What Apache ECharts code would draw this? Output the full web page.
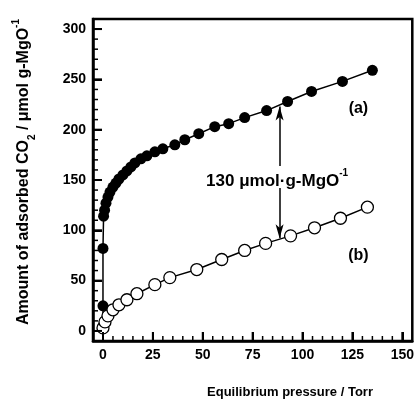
<!DOCTYPE html>
<html>
<head>
<meta charset="utf-8">
<script src="https://cdn.jsdelivr.net/npm/echarts@6/dist/echarts.min.js"></script>
<style>
html, body { margin: 0; padding: 0; background: #fff; }
#e_chart_1 { width: 417px; height: 402px; }
</style>
</head>
<body>
<div id="e_chart_1"></div>
<script>
// (a) filled circles, (b) open circles
var pressureA = [0, 0, 0, 0.3, 0.8, 1.5, 2.5, 3.5, 5, 6.5, 8, 10, 12, 14, 16, 19, 22, 26, 30, 36, 41, 48, 56, 63, 71, 82, 92.5, 104.5, 120, 135];
var amountA = [0, 25, 82, 114, 120, 127, 133, 138, 143, 147, 151, 155, 159, 163, 167, 171, 174, 178, 181, 185, 190, 196, 203, 206, 212, 219, 228, 238, 248, 259];
var pressureB = [0, 1, 2.5, 5, 8, 12, 17, 26, 33.5, 47, 59.5, 71, 81.5, 94, 106, 119, 132.5];
var amountB = [3, 9, 15, 21, 26, 31, 37, 46, 53, 61, 71, 80, 87, 94.5, 102.5, 112, 123];

var xTicks = [0, 25, 50, 75, 100, 125, 150];
var xMinorTicks = [5, 10, 15, 20, 30, 35, 40, 45, 55, 60, 65, 70, 80, 85, 90, 95, 105, 110, 115, 120, 130, 135, 140, 145];
var yTicks = [0, 50, 100, 150, 200, 250, 300];
var yMinorTicks = [10, 20, 30, 40, 60, 70, 80, 90, 110, 120, 130, 140, 160, 170, 180, 190, 210, 220, 230, 240, 260, 270, 280, 290];

var xMin = -5, xMax = 155, yMin = -10, yMax = 310;

// annotation (data coords)
var gapX = 88.5;
var gapTop = [223, 164];
var gapBottom = [142, 92];
var gapText = [87.25, 149];
var labelA = [128, 221];
var labelB = [128, 75];

var font = "'Liberation Sans', Arial, sans-serif";

function pairs(xs, ys) {
	var out = [];
	for (var i = 0; i < xs.length; i++) {
		if (xs[i] === 0 && ys[i] === 0) {
			out.push({ value: [0, 0], symbolSize: 0 });
		} else {
			out.push([xs[i], ys[i]]);
		}
	}
	return out;
}

var dom = document.getElementById("e_chart_1");
var myChart = echarts.init(dom);

var tickLabel = {
	color: '#000',
	fontFamily: font,
	fontWeight: 'bold',
	fontSize: 14
};

option = {
	animation: false,
	grid: {
		left: 93,
		top: 19,
		width: 320,
		height: 322,
		show: true,
		borderColor: '#000',
		borderWidth: 2.5
	},
	xAxis: {
		type: 'value',
		min: xMin,
		max: xMax,
		position: 'bottom',
		axisLine: { show: true, onZero: false, lineStyle: { color: '#000', width: 2.5 } },
		axisTick: { show: true, inside: true, length: 9, customValues: xTicks, lineStyle: { color: '#000', width: 2 } },
		axisLabel: Object.assign({ customValues: xTicks, margin: 7 }, tickLabel),
		splitLine: { show: false }
	},
	yAxis: {
		type: 'value',
		min: yMin,
		max: yMax,
		position: 'left',
		axisLine: { show: true, onZero: false, lineStyle: { color: '#000', width: 2.5 } },
		axisTick: { show: true, inside: true, length: 9, customValues: yTicks, lineStyle: { color: '#000', width: 2 } },
		axisLabel: Object.assign({ customValues: yTicks, margin: 7 }, tickLabel),
		splitLine: { show: false }
	},
	series: [{
		name: '(a)',
		type: 'line',
		data: pairs(pressureA, amountA),
		symbol: 'circle',
		symbolSize: 11,
		itemStyle: { color: '#000' },
		lineStyle: { color: '#000', width: 1.5 },
		markLine: {
			silent: true,
			symbol: ['none', 'arrow'],
			symbolSize: [6, 14],
			lineStyle: { color: '#000', width: 1.5, type: 'solid' },
			label: { show: false },
			data: [
				[{ coord: [gapX, gapTop[1]] }, { coord: [gapX, gapTop[0]] }],
				[{ coord: [gapX, gapBottom[0]] }, { coord: [gapX, gapBottom[1]] }]
			]
		}
	}, {
		name: '(b)',
		type: 'line',
		data: pairs(pressureB, amountB),
		symbol: 'circle',
		symbolSize: 12,
		itemStyle: { color: '#fff', borderColor: '#000', borderWidth: 1.3 },
		lineStyle: { color: '#000', width: 1.5 }
	}]
};
myChart.setOption(option, true);

function px(p) {
	return myChart.convertToPixel({ gridIndex: 0 }, p);
}

var pA = px(labelA), pB = px(labelB), pT = px(gapText);
function textStyle(size, extra) {
	return Object.assign({ fill: '#000', fontFamily: font, fontWeight: 'bold', fontSize: size }, extra);
}
function supStyle(size, lh) {
	return { fontSize: size, fontWeight: 'bold', fontFamily: font, verticalAlign: 'top', lineHeight: lh };
}

var graphics = [{
	type: 'text',
	x: 24,
	y: 172,
	rotation: Math.PI / 2,
	style: textStyle(16, {
		text: 'Amount of adsorbed CO{sub|2} / \u03bcmol g-MgO{sup|-1}',
		align: 'center',
		verticalAlign: 'middle',
		lineHeight: 26,
		rich: {
			sub: { fontSize: 10, fontWeight: 'bold', fontFamily: font, verticalAlign: 'bottom', lineHeight: 26 },
			sup: supStyle(10, 26)
		}
	})
}, {
	type: 'text',
	x: 290,
	y: 392,
	style: textStyle(13, { text: 'Equilibrium pressure / Torr', align: 'center', verticalAlign: 'middle' })
}, {
	type: 'text',
	x: pA[0],
	y: pA[1],
	style: textStyle(16, { text: '(a)', align: 'center', verticalAlign: 'middle' })
}, {
	type: 'text',
	x: pB[0],
	y: pB[1],
	style: textStyle(16, { text: '(b)', align: 'center', verticalAlign: 'middle' })
}, {
	type: 'text',
	x: pT[0],
	y: pT[1],
	style: textStyle(17, {
		text: '130 \u03bcmol\u00b7g-MgO{sup|-1}',
		align: 'center',
		verticalAlign: 'middle',
		lineHeight: 26,
		rich: { sup: supStyle(10, 26) }
	})
}];

// inward minor/major ticks, placed through the axis scales
function addXTicks(list, len, w) {
	list.forEach(function (v) {
		var p = px([v, yMin]);
		graphics.push({
			type: 'line', silent: true, z: 50,
			shape: { x1: p[0], y1: p[1], x2: p[0], y2: p[1] - len },
			style: { stroke: '#000', lineWidth: w }
		});
	});
}
function addYTicks(list, len, w) {
	list.forEach(function (v) {
		var p = px([xMin, v]);
		graphics.push({
			type: 'line', silent: true, z: 50,
			shape: { x1: p[0], y1: p[1], x2: p[0] + len, y2: p[1] },
			style: { stroke: '#000', lineWidth: w }
		});
	});
}
addXTicks(xTicks, 9, 2);
addXTicks(xMinorTicks, 5, 1.5);
addYTicks(yTicks, 9, 2);
addYTicks(yMinorTicks, 5, 1.5);

myChart.setOption({ graphic: graphics });
</script>
</body>
</html>
